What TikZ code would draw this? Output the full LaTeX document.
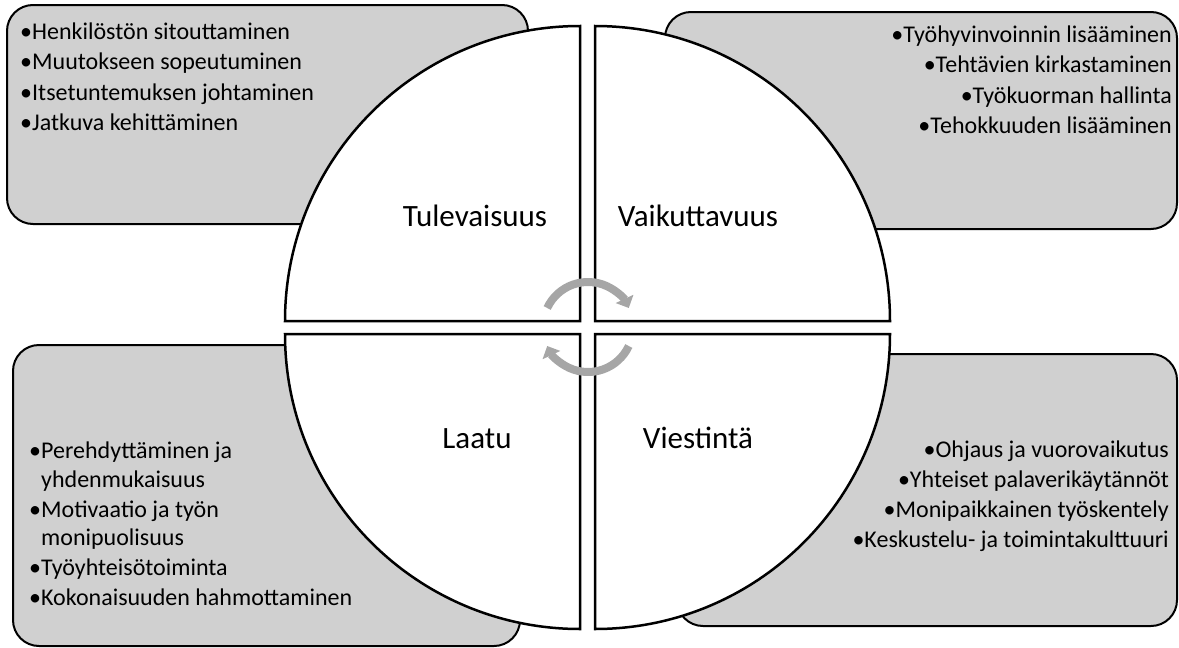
\documentclass[tikz,border=0pt]{standalone}
\usepackage{fontspec}
\setmainfont{Carlito}
\usetikzlibrary{arrows.meta}
\definecolor{boxgray}{RGB}{208,208,208}
\definecolor{arrowgray}{RGB}{166,166,166}
\newcommand{\itembul}{\makebox[13pt][l]{\hspace{1pt}•}}
\begin{document}
\begin{tikzpicture}[x=1pt,y=-1pt,
  panel/.style={draw=black, line width=2pt, fill=boxgray, rounded corners=26pt},
  quad/.style={draw=black, line width=2.5pt, fill=white, line join=miter},
  item/.style={inner sep=0pt, font=\fontsize{24}{29}\selectfont},
  itemL/.style={item, anchor=base west},
  itemR/.style={item, anchor=base east},
  qlabel/.style={inner sep=0pt, font=\fontsize{31}{37}\selectfont, anchor=base},
  cyc/.style={draw=arrowgray, line width=8pt, -{Triangle[length=10pt,width=19pt]}}]
\useasboundingbox (0,0) rectangle (1179,648);

% background panels
\draw[panel] (7,5) rectangle (528,224);
\draw[panel] (665,12) rectangle (1177,229);
\draw[panel] (13,345) rectangle (520,646);
\draw[panel] (677,354) rectangle (1177,626);

% quadrants
\draw[quad] (580,321) -- (285,321) arc[start angle=180,end angle=270,radius=295] -- cycle;
\draw[quad] (595,321) -- (595,26) arc[start angle=270,end angle=360,radius=295] -- cycle;
\draw[quad] (595,334) -- (890,334) arc[start angle=0,end angle=90,radius=295] -- cycle;
\draw[quad] (580,334) -- (580,629) arc[start angle=90,end angle=180,radius=295] -- cycle;

% cycle arrows
\coordinate (hub) at (588,327);
\draw[cyc] (hub) ++(205:45) arc[start angle=205,end angle=335,radius=45];
\draw[cyc] (hub) ++(25:45) arc[start angle=25,end angle=155,radius=45];

% quadrant labels
\node[qlabel] (tul) at (475,226) {Tulevaisuus};
\node[qlabel] (vai) at (698,226) {Vaikuttavuus};
\node[qlabel] (laa) at (477,448) {Laatu};
\node[qlabel] (vie) at (698,448) {Viestintä};

% top-left items
\node[itemL] (tl1) at (19,39) {\itembul Henkilöstön sitouttaminen};
\node[itemL] (tl2) at (19,69) {\itembul Muutokseen sopeutuminen};
\node[itemL] (tl3) at (19,100) {\itembul Itsetuntemuksen johtaminen};
\node[itemL] (tl4) at (19,130) {\itembul Jatkuva kehittäminen};

% top-right items
\node[itemR] (tr1) at (1172,42) {\itembul Työhyvinvoinnin lisääminen};
\node[itemR] (tr2) at (1172,72) {\itembul Tehtävien kirkastaminen};
\node[itemR] (tr3) at (1172,103) {\itembul Työkuorman hallinta};
\node[itemR] (tr4) at (1172,133) {\itembul Tehokkuuden lisääminen};

% bottom-left items
\node[itemL] (bl1) at (28,458) {\itembul Perehdyttäminen ja};
\node[itemL] (bl1b) at (41,487) {yhdenmukaisuus};
\node[itemL] (bl2) at (28,517) {\itembul Motivaatio ja työn};
\node[itemL] (bl2b) at (41,545) {monipuolisuus};
\node[itemL] (bl3) at (28,575) {\itembul Työyhteisötoiminta};
\node[itemL] (bl4) at (28,605) {\itembul Kokonaisuuden hahmottaminen};

% bottom-right items
\node[itemR] (br1) at (1169,457) {\itembul Ohjaus ja vuorovaikutus};
\node[itemR] (br2) at (1169,487) {\itembul Yhteiset palaverikäytännöt};
\node[itemR] (br3) at (1169,517) {\itembul Monipaikkainen työskentely};
\node[itemR] (br4) at (1169,547) {\itembul Keskustelu- ja toimintakulttuuri};
\end{tikzpicture}
\end{document}
